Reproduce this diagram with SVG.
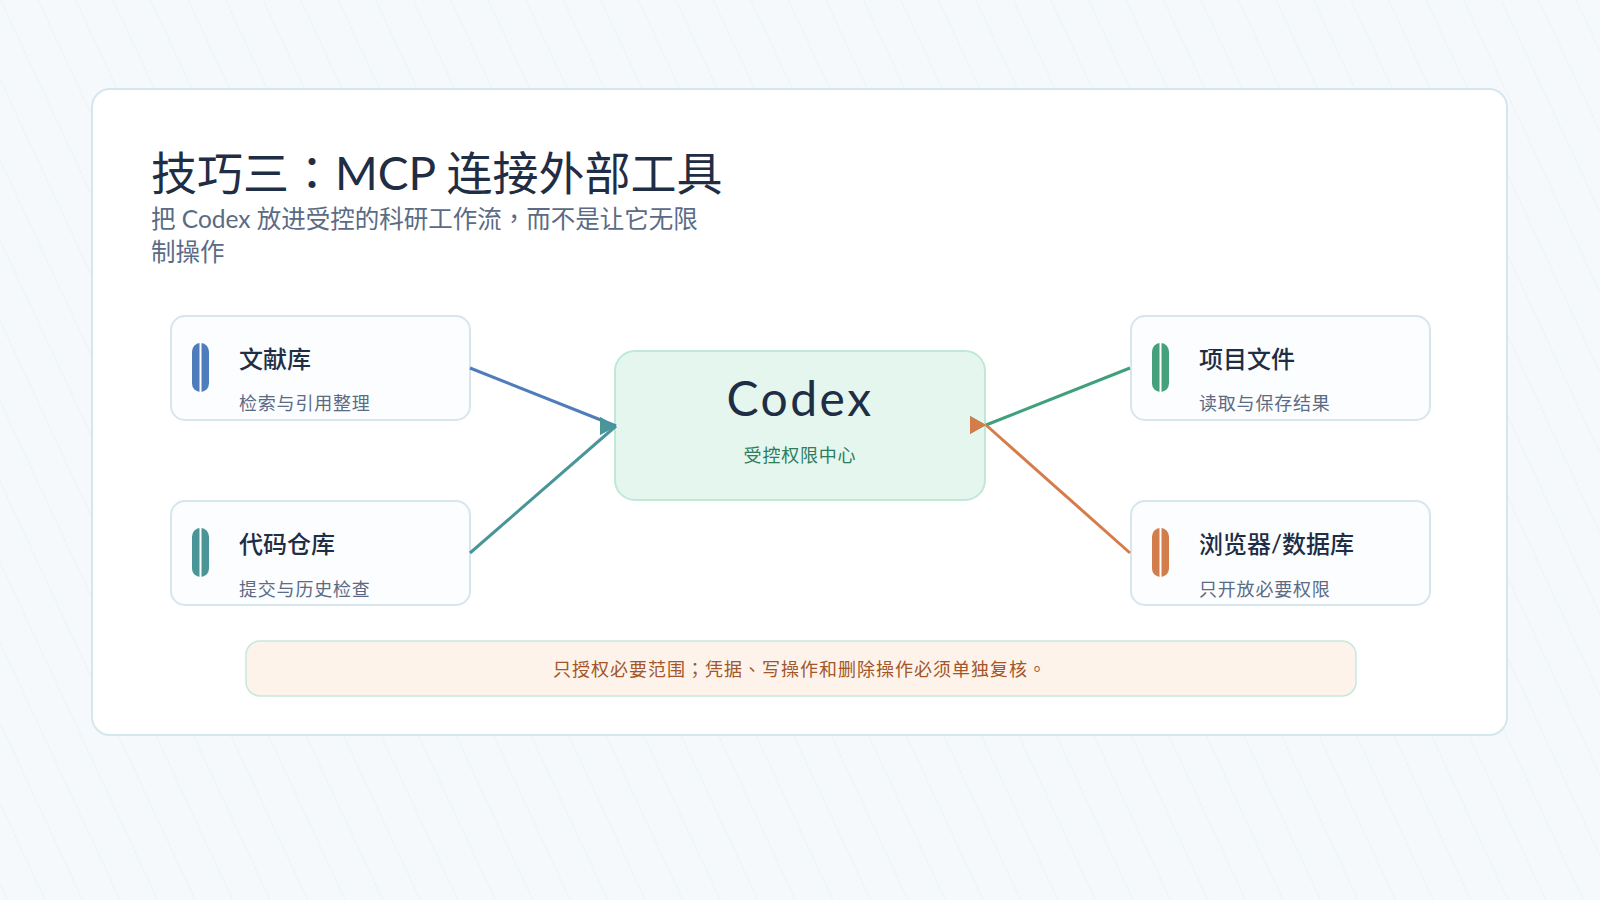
<svg xmlns="http://www.w3.org/2000/svg" width="1600" height="900" viewBox="0 0 1600 900">
  <defs>
    <pattern id="hatch" width="34" height="40" patternUnits="userSpaceOnUse" patternTransform="rotate(-25)">
      <line x1="0" y1="-10" x2="0" y2="50" stroke="#e4eff2" stroke-width="1"/>
    </pattern>
    <marker id="mBlue" markerUnits="userSpaceOnUse" markerWidth="16" markerHeight="18" refX="16" refY="9" viewBox="0 0 16 18">
      <path d="M0,0 L16,9 L0,18 Z" fill="#4f7dbb"/>
    </marker>
    <marker id="mTeal" markerUnits="userSpaceOnUse" markerWidth="16" markerHeight="18" refX="16" refY="9" viewBox="0 0 16 18">
      <path d="M0,0 L16,9 L0,18 Z" fill="#4a9598"/>
    </marker>
    <marker id="mGreen" markerUnits="userSpaceOnUse" markerWidth="16" markerHeight="18" refX="16" refY="9" viewBox="0 0 16 18">
      <path d="M0,0 L16,9 L0,18 Z" fill="#41a07b"/>
    </marker>
    <marker id="mOrange" markerUnits="userSpaceOnUse" markerWidth="16" markerHeight="18" refX="16" refY="9" viewBox="0 0 16 18">
      <path d="M0,0 L16,9 L0,18 Z" fill="#d57c4a"/>
    </marker>
  </defs>
  <style>
    text { font-family: "Lato", "Noto Sans CJK TC", sans-serif; }
    .title { font-size: 46px; font-weight: 400; fill: #1f2d45; }
    .subtitle { font-size: 24.5px; fill: #5b6b84; }
    .node { fill: #fbfdfe; stroke: #d6e6ec; stroke-width: 2; }
    .ntitle { font-size: 24px; font-weight: 500; fill: #1f2d45; }
    .nsub { font-size: 18px; letter-spacing: 0.8px; fill: #5b6b84; }
    .bar-line { stroke: #ffffff; stroke-width: 2; }
    .conn { fill: none; stroke-width: 3; }
  </style>

  <rect x="0" y="0" width="1600" height="900" fill="#f5f9fb"/>
  <rect x="0" y="0" width="1600" height="900" fill="url(#hatch)"/>

  <rect x="92" y="89" width="1415" height="646" rx="18" fill="#ffffff" stroke="#d6e6ee" stroke-width="2"/>

  <text class="title" x="151" y="190">技巧三：MCP 连接外部工具</text>
  <text class="subtitle" x="151" y="228">把 Codex 放进受控的科研工作流，而不是让它无限</text>
  <text class="subtitle" x="151" y="261">制操作</text>

  <g id="node-codex">
    <rect x="615" y="351" width="370" height="149" rx="20" fill="#e4f6ee" stroke="#bfe8d7" stroke-width="2"/>
    <text x="800" y="416" text-anchor="middle" font-size="48" letter-spacing="2.5" fill="#1f2d45">Codex</text>
    <text x="800" y="462" text-anchor="middle" font-size="18" letter-spacing="0.8" fill="#2f7d5c">受控权限中心</text>
  </g>

  <g id="node-literature">
    <rect class="node" x="171" y="316" width="299" height="104" rx="14"/>
    <rect x="192" y="343" width="17" height="49" rx="8.5" fill="#4f7dbb"/>
    <line class="bar-line" x1="200.5" y1="343" x2="200.5" y2="392"/>
    <text class="ntitle" x="239" y="368">文献库</text>
    <text class="nsub" x="239" y="410">检索与引用整理</text>
  </g>

  <g id="node-repo">
    <rect class="node" x="171" y="501" width="299" height="104" rx="14"/>
    <rect x="192" y="528" width="17" height="49" rx="8.5" fill="#4a9598"/>
    <line class="bar-line" x1="200.5" y1="528" x2="200.5" y2="577"/>
    <text class="ntitle" x="239" y="553">代码仓库</text>
    <text class="nsub" x="239" y="596">提交与历史检查</text>
  </g>

  <g id="node-files">
    <rect class="node" x="1131" y="316" width="299" height="104" rx="14"/>
    <rect x="1152" y="343" width="17" height="49" rx="8.5" fill="#45a07c"/>
    <line class="bar-line" x1="1160.5" y1="343" x2="1160.5" y2="392"/>
    <text class="ntitle" x="1199" y="368">项目文件</text>
    <text class="nsub" x="1199" y="410">读取与保存结果</text>
  </g>

  <g id="node-browser">
    <rect class="node" x="1131" y="501" width="299" height="104" rx="14"/>
    <rect x="1152" y="528" width="17" height="49" rx="8.5" fill="#d47d4c"/>
    <line class="bar-line" x1="1160.5" y1="528" x2="1160.5" y2="577"/>
    <text class="ntitle" x="1199" y="553">浏览器/数据库</text>
    <text class="nsub" x="1199" y="596">只开放必要权限</text>
  </g>

  <g id="connectors">
    <line class="conn" x1="470" y1="368" x2="616" y2="426" stroke="#4f7dbb" marker-end="url(#mBlue)"/>
    <line class="conn" x1="470" y1="553" x2="616" y2="426" stroke="#4a9598" marker-end="url(#mTeal)"/>
    <line class="conn" x1="1130" y1="368" x2="986" y2="425" stroke="#41a07b" marker-end="url(#mGreen)"/>
    <line class="conn" x1="1130" y1="553" x2="986" y2="425" stroke="#d57c4a" marker-end="url(#mOrange)"/>
  </g>

  <g id="note">
    <rect x="246" y="641" width="1110" height="55" rx="14" fill="#fdf3ea" stroke="#c6e9da" stroke-width="1.5"/>
    <text x="800" y="676" text-anchor="middle" font-size="18" letter-spacing="1" fill="#a2562a">只授权必要范围；凭据、写操作和删除操作必须单独复核。</text>
  </g>
</svg>
